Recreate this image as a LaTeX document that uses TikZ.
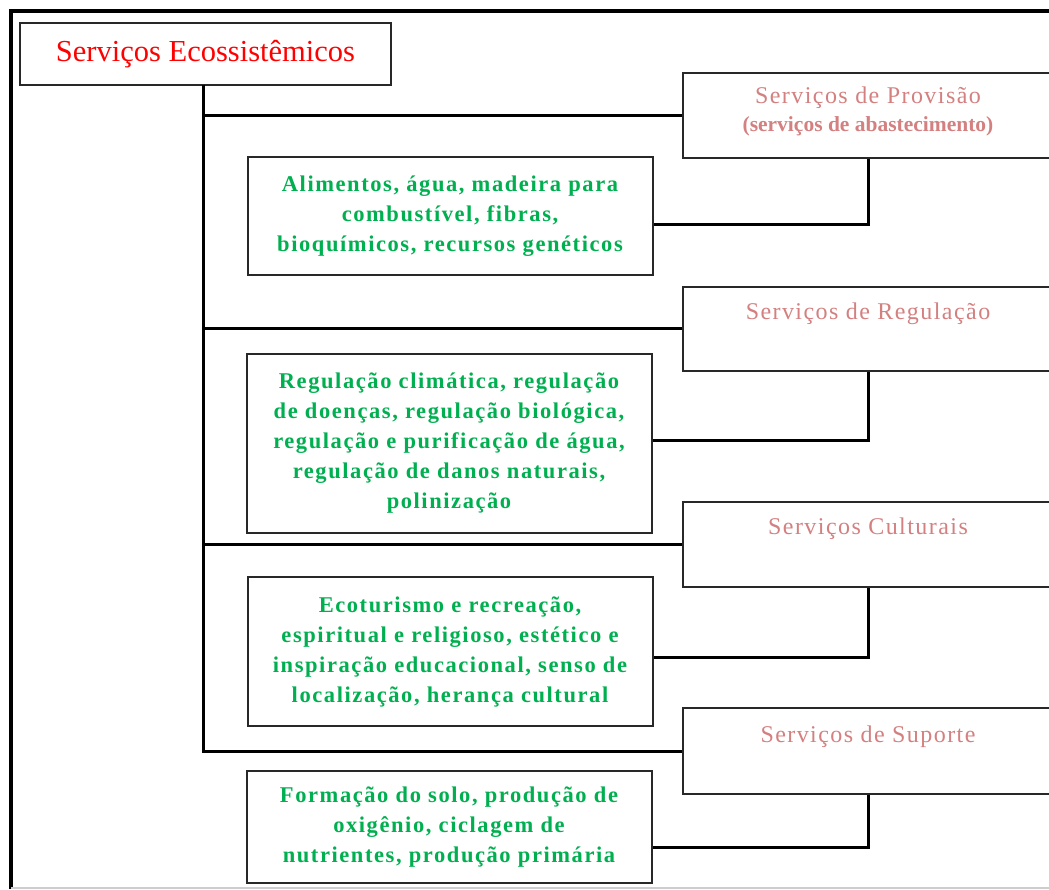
\documentclass[tikz,border=0pt]{standalone}
\usepackage{fontspec}
\setmainfont{Liberation Serif}
\definecolor{titlered}{RGB}{255,0,0}
\definecolor{headpink}{RGB}{212,128,128}
\definecolor{itemgreen}{RGB}{0,176,80}
\definecolor{edge}{RGB}{40,40,40}
\definecolor{rule}{RGB}{205,205,205}

\begin{document}
\begin{tikzpicture}[x=1pt,y=-1pt,
  frame/.style={draw=edge, line width=2pt, fill=white, inner sep=0pt},
  titlebox/.style={frame, minimum width=371pt, minimum height=62pt,
    text=titlered, font=\fontsize{30.5}{34}\selectfont},
  headbox/.style={frame, minimum width=370pt, minimum height=85pt},
  headtext/.style={inner sep=0pt, align=center, text=headpink,
    font=\fontsize{24}{28}\selectfont\addfontfeature{LetterSpace=6}},
  itembox/.style={frame, minimum width=405pt, align=center, text=itemgreen,
    font=\fontsize{22.5}{30}\selectfont\bfseries\addfontfeature{LetterSpace=7}},
  link/.style={draw=black, line width=3pt},
]
\useasboundingbox (0,0) rectangle (1049,890);
\clip (0,0) rectangle (1049,890);

% page frame
\draw[line width=3.5pt] (1060,11) -- (11,11) -- (11,889);
\draw[rule, line width=1.2pt] (11,888) -- (1049,888);

% title
\node[titlebox] (title) at (205.5,54) {Serviços Ecossistêmicos};

% service categories
\node[headbox, minimum height=85pt] (prov) at (868,115.5) {};
\node[headbox, minimum height=84pt] (reg)  at (868,329) {};
\node[headbox, minimum height=85pt] (cult) at (868,544.5) {};
\node[headbox, minimum height=86pt] (sup)  at (868,751) {};

% the base anchor of a two-line node sits on its last line
\node[headtext, anchor=base] (provtxt) at ([yshift=-60pt]prov.north)
  {Serviços de Provisão\\{\fontsize{21.5}{28}\selectfont\bfseries\addfontfeature{LetterSpace=0}(serviços de abastecimento)}};
\node[headtext, anchor=base] (regtxt)  at ([yshift=-34pt]reg.north)  {Serviços de Regulação};
\node[headtext, anchor=base] (culttxt) at ([yshift=-33.5pt]cult.north) {Serviços Culturais};
\node[headtext, anchor=base] (suptxt)  at ([yshift=-35.5pt]sup.north)  {Serviços de Suporte};

% examples of each category
\node[itembox, minimum height=118pt] (g1) at (450,216)
  {Alimentos, água, madeira para\\combustível, fibras,\\bioquímicos, recursos genéticos};
\node[itembox, minimum height=179pt] (g2) at (449,443.5)
  {Regulação climática, regulação\\de doenças, regulação biológica,\\regulação e purificação de água,\\regulação de danos naturais,\\polinização};
\node[itembox, minimum height=149pt] (g3) at (450,651.5)
  {Ecoturismo e recreação,\\espiritual e religioso, estético e\\inspiração educacional, senso de\\localização, herança cultural};
\node[itembox, minimum height=112pt] (g4) at (449,827)
  {Formação do solo, produção de\\oxigênio, ciclagem de\\nutrientes, produção primária};

% trunk and branches
\coordinate (trunk) at (203,85);
\draw[link] (trunk) -- (trunk |- sup.west) -- (sup.west);
\draw[link] (trunk |- prov.west) -- (prov.west);
\draw[link] (trunk |- reg.west) -- (reg.west);
\draw[link] (trunk |- cult.west) -- (cult.west);

% category to examples
\draw[link] (prov.south) |- ([yshift=-9pt]g1.east);
\draw[link] (reg.south)  |- ([yshift=3.5pt]g2.east);
\draw[link] (cult.south) |- ([yshift=-5.5pt]g3.east);
\draw[link] (sup.south)  |- ([yshift=-20pt]g4.east);
\end{tikzpicture}
\end{document}
